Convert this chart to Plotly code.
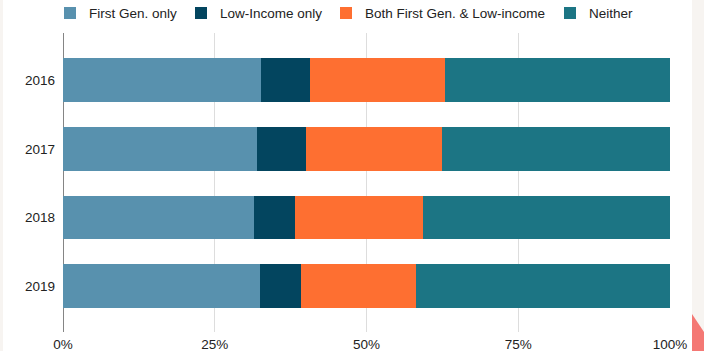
import plotly.graph_objects as go

# Share of students by first-generation / low-income status, per year
years = ["2016", "2017", "2018", "2019"]
first_gen_only = [32.6, 32.0, 31.5, 32.4]
low_income_only = [8.1, 8.1, 6.7, 6.8]
both = [22.2, 22.3, 21.1, 18.9]
neither = [37.1, 37.6, 40.7, 41.9]

series_names = ["First Gen. only", "Low-Income only",
                "Both First Gen. & Low-income", "Neither"]
series_values = [first_gen_only, low_income_only, both, neither]
series_colors = ["#5891AE", "#03455F", "#FE6F31", "#1C7584"]

x_ticks = [0, 25, 50, 75, 100]
x_tick_text = ["0%", "25%", "50%", "75%", "100%"]

W, H = 704, 351
ML, MR, MT, MB = 63, 34, 33, 19
PW, PH = W - ML - MR, H - MT - MB
FONT = "Liberation Sans, Arial, Helvetica, sans-serif"
FS = 13.5


def px_x(p):
    return (p - ML) / PW


def px_y(p):
    return 1 - (p - MT) / PH


fig = go.Figure()
for name, vals, color in zip(series_names, series_values, series_colors):
    fig.add_trace(go.Bar(
        name=name, y=years, x=vals, orientation="h",
        marker=dict(color=color, line=dict(width=0)),
        width=0.64,
    ))

# Legend row drawn by hand so entry spacing stays even
legend_left = [64, 195, 340, 564]
shapes = []
annotations = []
for left, name, color in zip(legend_left, series_names, series_colors):
    shapes.append(dict(
        type="rect", xref="paper", yref="paper",
        x0=px_x(left), x1=px_x(left + 12), y0=px_y(19), y1=px_y(7),
        fillcolor=color, line=dict(width=0),
    ))
    annotations.append(dict(
        text=name, xref="paper", yref="paper",
        x=px_x(left + 23), y=px_y(13), xanchor="left", yanchor="middle",
        showarrow=False, font=dict(family=FONT, size=FS, color="#222222"),
    ))

# Page edges around the chart card
shapes += [
    dict(type="rect", xref="paper", yref="paper",
         x0=px_x(0), x1=px_x(3), y0=px_y(H), y1=px_y(0),
         fillcolor="#F7F4F1", line=dict(width=0), layer="above"),
    dict(type="rect", xref="paper", yref="paper",
         x0=px_x(692), x1=px_x(W), y0=px_y(H), y1=px_y(0),
         fillcolor="#F7F4F1", line=dict(width=0), layer="above"),
    dict(type="path", xref="paper", yref="paper",
         path="M {0},{1} L {2},{3} L {2},{4} L {0},{4} Z".format(
             px_x(692), px_y(314), px_x(W), px_y(332), px_y(H)),
         fillcolor="#F47874", line=dict(width=0), layer="above"),
]

fig.update_layout(
    width=W, height=H,
    barmode="stack",
    margin=dict(l=ML, r=MR, t=MT, b=MB, pad=0, autoexpand=False),
    paper_bgcolor="white",
    plot_bgcolor="white",
    font=dict(family=FONT, size=FS, color="#222222"),
    showlegend=False,
    xaxis=dict(
        range=[0, 100], tickvals=x_ticks, ticktext=x_tick_text,
        showgrid=True, gridcolor="#dddddd", gridwidth=1,
        zeroline=True, zerolinecolor="#858585", zerolinewidth=1.3,
        showline=False, ticks="", fixedrange=True, automargin=False,
        ticklabelstandoff=2,
    ),
    yaxis=dict(
        type="category", range=[3.67, -0.69],
        showgrid=False, zeroline=False, showline=False, ticks="",
        ticklabelstandoff=7, fixedrange=True, automargin=False,
    ),
    shapes=shapes,
    annotations=annotations,
)

fig.write_html("out.html")
